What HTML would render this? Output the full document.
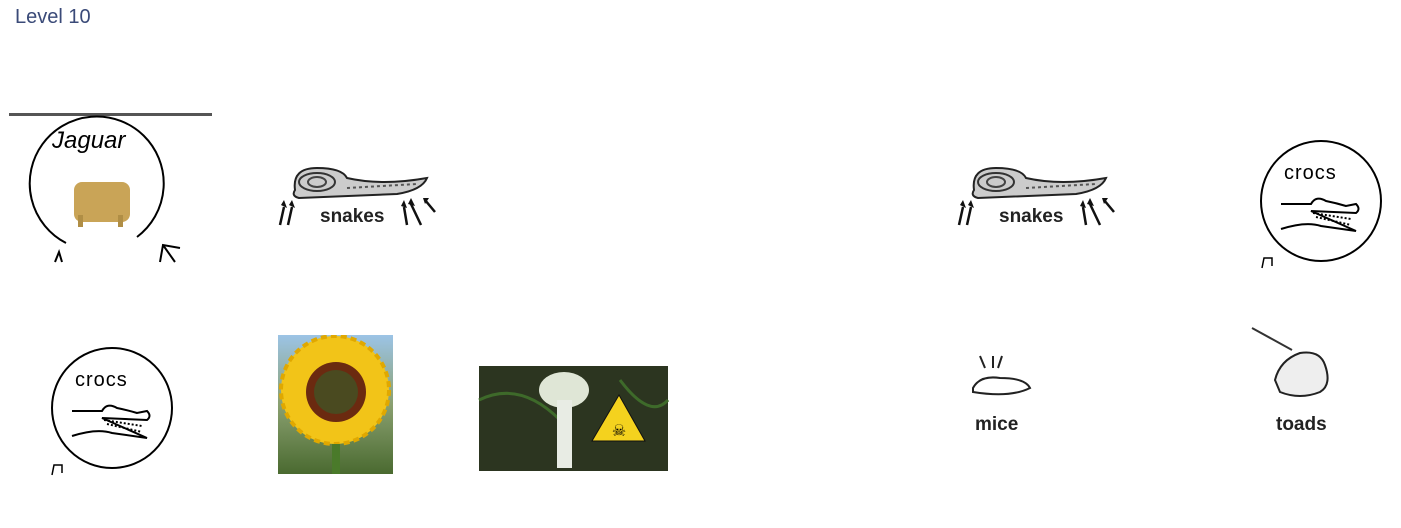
<!DOCTYPE html>
<html><head><meta charset="utf-8"><style>
body{margin:0;width:1401px;height:528px;background:#fff;overflow:hidden;position:relative;font-family:"Liberation Sans",sans-serif}
.t{position:absolute;left:15px;top:6px;font-size:20px;color:#3a4a78;font-family:"Liberation Sans",sans-serif}
</style></head><body>
<div class="t">Level 10</div>
<svg width="1401" height="528" style="position:absolute;left:0;top:0">
<defs>
<clipPath id="sfc"><rect x="278" y="335" width="115" height="139"/></clipPath>
<linearGradient id="sky" x1="0" y1="0" x2="0" y2="1"><stop offset="0" stop-color="#9cc4e6"/><stop offset="0.5" stop-color="#8aa070"/><stop offset="1" stop-color="#4a6a30"/></linearGradient>
<g id="croc">
<circle cx="0" cy="0" r="60" fill="none" stroke="#000" stroke-width="2"/>
<text x="-37" y="-22" font-size="20" font-family="Liberation Sans" fill="#000" letter-spacing="1">crocs</text>
<path d="M-40 3 L-10 3 Q-5 -6 5 0 Q15 2 25 5 L35 3 Q40 8 35 12 L-10 10 L35 30 L0 25 Q-15 20 -40 28" fill="none" stroke="#000" stroke-width="2"/>
<path d="M-8 12 L30 18 M-5 16 L30 24" stroke="#000" stroke-width="2" stroke-dasharray="2 2"/>
</g>
<g id="snake">
<path d="M8 8 Q5 -14 30 -14 Q55 -14 60 -4 Q95 4 140 -4 Q135 8 110 12 L12 16 Q4 14 8 8Z" fill="#ccc" stroke="#222" stroke-width="2"/>
<ellipse cx="30" cy="0" rx="18" ry="9" fill="none" stroke="#333" stroke-width="2"/>
<ellipse cx="30" cy="0" rx="9" ry="5" fill="none" stroke="#444" stroke-width="2"/>
<path d="M60 6 L130 2" stroke="#555" stroke-width="2" stroke-dasharray="3 3"/>
<text x="33" y="40" font-size="19" font-weight="bold" fill="#222">snakes</text>
<path d="M-7 43 L-3 25 M1 43 L5 25 M120 43 L117 25 M134 43 L124 22 M148 30 L138 18" stroke="#111" stroke-width="2.5"/>
<path d="M-6 23 L-3 18 L0 26Z M2 23 L5 18 L8 26Z M114 24 L117 18 L120 26Z M121 22 L124 16 L128 24Z M136 16 L142 16 L138 22Z" fill="#111"/>
</g>
</defs>
<rect x="9" y="113" width="203" height="3" fill="#555"/>
<path d="M66 243 A67 67 0 1 1 137 237" fill="none" stroke="#000" stroke-width="2"/>
<text x="52" y="148" font-size="24" fill="#000" font-style="italic">Jaguar</text>
<rect x="74" y="182" width="56" height="40" rx="8" fill="#c9a457"/>
<rect x="78" y="215" width="5" height="12" fill="#b08e45"/><rect x="118" y="215" width="5" height="12" fill="#b08e45"/>
<path d="M160 262 L163 245 L180 248 M163 245 L175 262" fill="none" stroke="#000" stroke-width="2"/>
<path d="M55 262 L59 252 L62 262" fill="none" stroke="#000" stroke-width="2"/>
<use href="#snake" transform="translate(287,182)"/>
<use href="#snake" transform="translate(966,182)"/>
<use href="#croc" transform="translate(1321,201)"/>
<use href="#croc" transform="translate(112,408)"/>
<path d="M1262 268 L1264 258 L1272 258 L1272 266" fill="none" stroke="#000" stroke-width="1.5"/>
<path d="M52 475 L54 465 L62 465 L62 473" fill="none" stroke="#000" stroke-width="1.5"/>
<g clip-path="url(#sfc)">
<rect x="278" y="335" width="115" height="139" fill="url(#sky)"/>
<circle cx="335" cy="390" r="54" fill="#f2c418" stroke="#e0a800" stroke-width="4" stroke-dasharray="6 4"/>
<circle cx="336" cy="392" r="30" fill="#6b2a10"/>
<circle cx="336" cy="392" r="22" fill="#4a4a20"/>
<rect x="332" y="444" width="8" height="34" fill="#4a7a2a"/>
</g>
<rect x="479" y="366" width="189" height="105" fill="#2c3520"/>
<path d="M479 400 Q520 380 560 420 M620 380 Q650 420 668 400" stroke="#3e6a2a" stroke-width="3" fill="none"/>
<ellipse cx="564" cy="390" rx="25" ry="18" fill="#dfe6d6"/>
<rect x="557" y="400" width="15" height="68" fill="#e8ece4"/>
<polygon points="619,395 645,441 592,441" fill="#f4d21e" stroke="#111"/>
<text x="619" y="436" font-size="16" text-anchor="middle">☠</text>
<path d="M980 356 L985 368 M993 356 L993 368 M1002 356 L998 368" stroke="#222" stroke-width="2"/>
<path d="M973 388 Q980 375 1000 378 Q1025 378 1030 388 Q1010 398 973 392Z" fill="#fff" stroke="#222" stroke-width="2"/>
<text x="975" y="430" font-size="19" font-weight="bold" fill="#222">mice</text>
<path d="M1252 328 L1292 350" stroke="#333" stroke-width="2"/>
<path d="M1275 380 Q1280 360 1300 353 Q1320 350 1325 365 Q1332 385 1320 392 Q1300 400 1280 392Z" fill="#eee" stroke="#222" stroke-width="2"/>
<text x="1276" y="430" font-size="19" font-weight="bold" fill="#222">toads</text>
</svg>
</body></html>
